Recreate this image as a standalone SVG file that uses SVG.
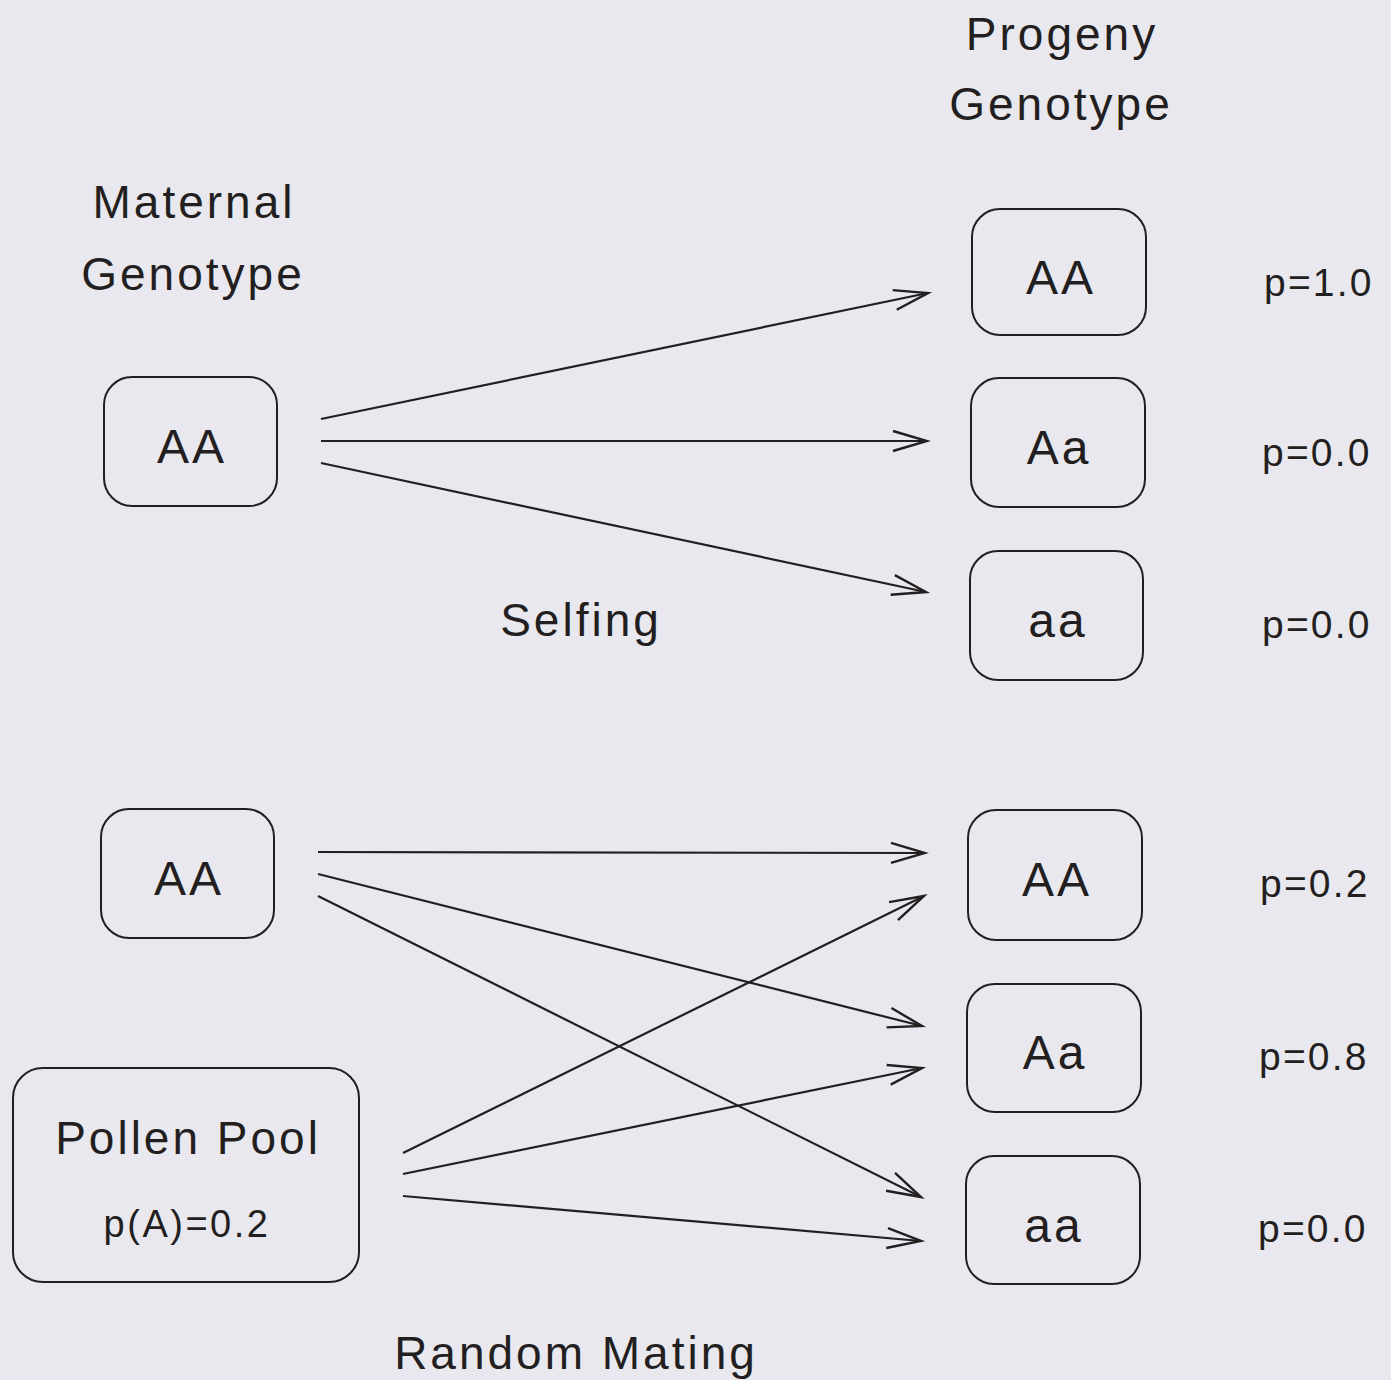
<svg xmlns="http://www.w3.org/2000/svg" width="1391" height="1380" viewBox="0 0 1391 1380">
<defs>
<style>
text{font-family:"Liberation Sans",Arial,sans-serif;fill:#231f20;text-anchor:middle}
.t{font-size:46px;letter-spacing:3px}
.n{font-size:48px;letter-spacing:3px}
.p{font-size:39px;letter-spacing:2.2px;text-anchor:start}
.box{fill:none;stroke:#231f20;stroke-width:2}
.c line{stroke:#231f20;stroke-width:2.2;marker-end:url(#ah)}
</style>
<marker id="ah" markerUnits="userSpaceOnUse" markerWidth="40" markerHeight="24" refX="36" refY="12" orient="auto" viewBox="0 0 40 24">
<path d="M2,2 L36,12 L2,22" fill="none" stroke="#231f20" stroke-width="2.4"/>
</marker>
</defs>
<rect width="1391" height="1380" fill="#e9e8ee"/>
<text class="t" x="1062" y="50">Progeny</text>
<text class="t" x="1061" y="120">Genotype</text>
<text class="t" x="194" y="218">Maternal</text>
<text class="t" x="193" y="290">Genotype</text>
<text class="t" x="581" y="636">Selfing</text>
<text class="t" x="576" y="1369">Random Mating</text>
<g id="mat1"><rect class="box" x="104" y="377" width="173" height="129" rx="28"/><text class="n" x="192" y="463">AA</text></g>
<g id="prog1"><rect class="box" x="972" y="209" width="174" height="126" rx="28"/><text class="n" x="1061" y="294">AA</text></g>
<g id="prog2"><rect class="box" x="971" y="378" width="174" height="129" rx="28"/><text class="n" x="1059" y="464">Aa</text></g>
<g id="prog3"><rect class="box" x="970" y="551" width="173" height="129" rx="28"/><text class="n" x="1058" y="637">aa</text></g>
<g id="mat2"><rect class="box" x="101" y="809" width="173" height="129" rx="28"/><text class="n" x="189" y="895">AA</text></g>
<g id="pollen"><rect class="box" x="13" y="1068" width="346" height="214" rx="30"/><text class="t" x="188" y="1154">Pollen Pool</text><text style="font-size:38px;letter-spacing:2.5px" x="187" y="1237">p(A)=0.2</text></g>
<g id="prog4"><rect class="box" x="968" y="810" width="174" height="130" rx="28"/><text class="n" x="1057" y="896">AA</text></g>
<g id="prog5"><rect class="box" x="967" y="984" width="174" height="128" rx="28"/><text class="n" x="1055" y="1069">Aa</text></g>
<g id="prog6"><rect class="box" x="966" y="1156" width="174" height="128" rx="28"/><text class="n" x="1054" y="1242">aa</text></g>
<g id="probs">
<text class="p" x="1264" y="296">p=1.0</text>
<text class="p" x="1262" y="466">p=0.0</text>
<text class="p" x="1262" y="638">p=0.0</text>
<text class="p" x="1260" y="897">p=0.2</text>
<text class="p" x="1259" y="1070">p=0.8</text>
<text class="p" x="1258" y="1242">p=0.0</text>
</g>
<g id="connectors" class="c">
<line x1="321" y1="419" x2="928" y2="293"/>
<line x1="321" y1="441" x2="927" y2="441"/>
<line x1="321" y1="463" x2="926" y2="592"/>
<line x1="318" y1="852" x2="925" y2="853"/>
<line x1="318" y1="874" x2="922" y2="1026"/>
<line x1="318" y1="896" x2="921" y2="1197"/>
<line x1="403" y1="1153" x2="924" y2="896"/>
<line x1="403" y1="1174" x2="922" y2="1068"/>
<line x1="403" y1="1196" x2="921" y2="1241"/>
</g>
</svg>
